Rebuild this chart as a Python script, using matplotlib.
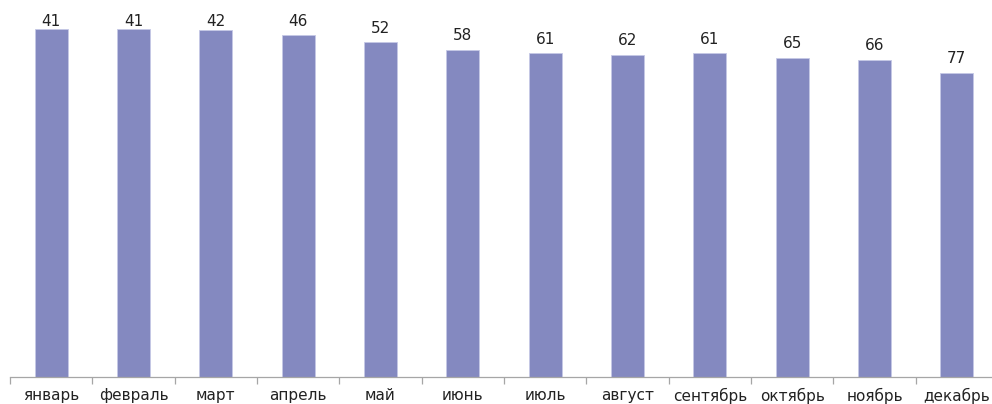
import numpy as np
from matplotlib import pyplot as plt

months = ['январь', 'февраль', 'март', 'апрель', 'май', 'июнь',
          'июль', 'август', 'сентябрь', 'октябрь', 'ноябрь', 'декабрь']
values = [41, 41, 42, 46, 52, 58, 61, 62, 61, 65, 66, 77]

plt.rcParams['font.family'] = ['DejaVu Sans']

fig = plt.figure(figsize=(9.92, 4.04), dpi=100)
ax = fig.add_axes([10 / 992, 27 / 404, 988 / 992, 377 / 404])

base = 326   # bars hang from here, the value axis runs top-down
x = np.arange(len(months))
v = np.array(values)
bars = ax.bar(x, v - base, bottom=base, width=0.4, color='#8489c0',
              edgecolor='#c5c8e6', linewidth=0.6)
ax.set_ylim(base, 17.2)
ax.set_xlim(-0.5, len(months) - 0.5)

# labels sit above the bars but are kept from leaving the plot area
for xi, val in zip(x, values):
    ax.text(xi, max(val - 5.7, 41), str(val), ha='center', va='bottom',
            fontsize=11, color='#222222')

for s in ['top', 'right', 'left']:
    ax.spines[s].set_visible(False)
ax.spines['bottom'].set_color('#a6a6a6')
ax.spines['bottom'].set_linewidth(0.9)
ax.set_yticks([])
ax.set_xticks(np.arange(len(months) + 1) - 0.5)
ax.set_xticklabels([])
ax.tick_params(axis='x', length=5, color='#a6a6a6', width=0.9)
ax.set_xticks(x, minor=True)
ax.set_xticklabels(months, minor=True, fontsize=11, color='#222222')
ax.tick_params(axis='x', which='minor', length=0, pad=8)

fig.savefig('out.png', dpi=100)
